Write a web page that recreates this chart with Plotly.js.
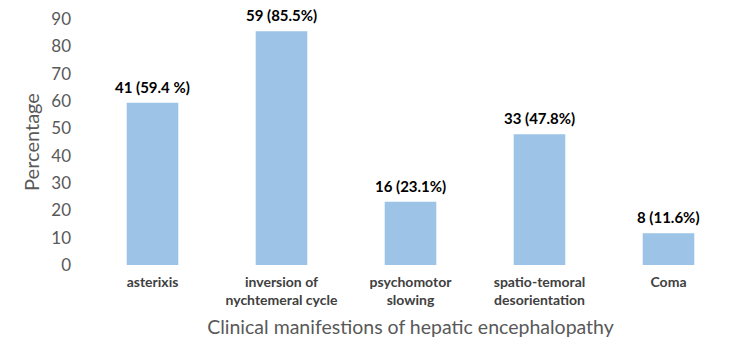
<!DOCTYPE html>
<html>
<head>
<meta charset="utf-8">
<script src="https://cdn.plot.ly/plotly-3.0.1.min.js"></script>
<style>
  html, body { margin: 0; padding: 0; background: #fff; }
  #chart { width: 750px; height: 361px; }
</style>
</head>
<body>
<div id="chart"></div>
<script>
// Clinical manifestations of hepatic encephalopathy (n, %)
const categories = [
  "asterixis",
  "inversion of<br>nychtemeral cycle",
  "psychomotor<br>slowing",
  "spatio-temoral<br>desorientation",
  "Coma"
];
const counts = [41, 59, 16, 33, 8];
const percentages = [59.4, 85.5, 23.1, 47.8, 11.6];
const valueLabels = ["41 (59.4 %)", "59 (85.5%)", "16 (23.1%)", "33 (47.8%)", "8 (11.6%)"];
const yTicks = [0, 10, 20, 30, 40, 50, 60, 70, 80, 90];

const FONT = "Lato, 'Open Sans', sans-serif";

const trace = {
  type: "bar",
  x: categories,
  y: percentages,
  customdata: counts,
  marker: { color: "#9DC3E6", line: { width: 0 } },
  hoverinfo: "skip"
};

// value labels sit just above each bar
const annotations = categories.map((c, i) => ({
  x: c,
  y: percentages[i],
  xref: "x",
  yref: "y",
  text: "<b>" + valueLabels[i] + "</b>",
  showarrow: false,
  yanchor: "bottom",
  yshift: 5,
  font: { family: FONT, size: 15, color: "#000000" }
}));

const layout = {
  width: 750,
  height: 361,
  margin: { l: 88, r: 17, t: 19, b: 96 },
  paper_bgcolor: "#ffffff",
  plot_bgcolor: "#ffffff",
  showlegend: false,
  bargap: 0.6,
  font: { family: FONT },
  xaxis: {
    type: "category",
    tickfont: { family: FONT, size: 14, color: "#404040", weight: "bold" },
    showline: false,
    showgrid: false,
    zeroline: false,
    ticks: "",
    ticklabelstandoff: 7,
    title: {
      text: "Clinical manifestions of hepatic encephalopathy",
      font: { family: FONT, size: 19.5, color: "#595959" },
      standoff: 13
    }
  },
  yaxis: {
    range: [0, 90],
    tickvals: yTicks,
    showgrid: false,
    zeroline: false,
    showline: false,
    ticks: "",
    ticklabelstandoff: 16,
    tickfont: { family: FONT, size: 17, color: "#595959" },
    title: {
      text: "Percentage",
      font: { family: FONT, size: 20, color: "#595959" },
      standoff: 6
    }
  },
  annotations: annotations
};

Plotly.newPlot("chart", [trace], layout, { staticPlot: true, displayModeBar: false });
</script>
</body>
</html>
